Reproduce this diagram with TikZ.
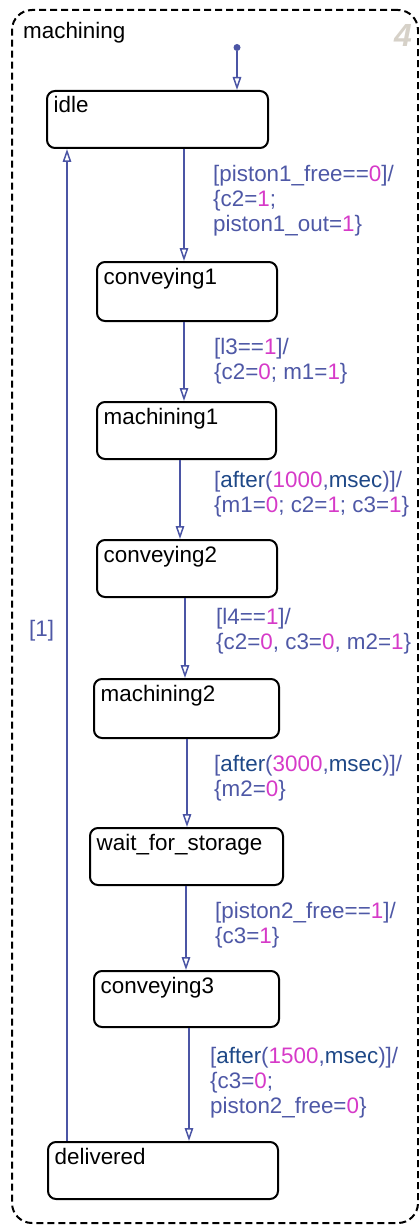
\documentclass[tikz,border=0pt]{standalone}
\usepackage{fontspec}
\setmainfont{Liberation Sans}
\usetikzlibrary{arrows.meta}
\definecolor{lb}{RGB}{78,88,166}
\definecolor{kwc}{RGB}{30,72,135}
\definecolor{nmc}{RGB}{214,58,200}
\definecolor{trc}{RGB}{75,85,165}
\definecolor{numgray}{RGB}{214,209,200}
\newcommand\nm[1]{\textcolor{nmc}{#1}}
\newcommand\kw[1]{\textcolor{kwc}{#1}}
\newcommand\lblfont{\fontsize{22.4}{25}\selectfont}
\tikzset{
  statebox/.style={draw=black, line width=2pt, rounded corners=8pt, rectangle, inner sep=0pt, fill=white},
  sname/.style={anchor=base west, inner sep=0pt, font=\lblfont, text=black},
  super/.style={draw=black, line width=2pt, dash pattern=on 7pt off 4pt, rounded corners=20pt, rectangle, inner sep=0pt},
  tr/.style={draw=trc, line width=1.8pt, -{Triangle[open, length=13pt, width=8.5pt, line width=1.5pt]}},
  tlbl/.style={anchor=north west, inner sep=0pt, align=left, text=lb, font=\lblfont},
}
\begin{document}
\begin{tikzpicture}[x=1pt, y=-1pt]
\useasboundingbox (0,0) rectangle (419,1225);
% superstate
\node[super, minimum width=406pt, minimum height=1213pt] (machining) at (215,616.5) {};
\node[sname] (machiningname) at (23,39) {machining};
\node[anchor=north east, inner sep=0pt, text=numgray, font=\fontsize{32}{32}\selectfont\bfseries\itshape] (chartnum) at (412,24) {4};
% states
\node[statebox, minimum width=221pt, minimum height=57pt] (idle) at (157.5,119.5) {};
\node[statebox, minimum width=180pt, minimum height=59pt] (conveying1) at (187,291.5) {};
\node[statebox, minimum width=179pt, minimum height=57pt] (machining1) at (186.5,430.5) {};
\node[statebox, minimum width=180pt, minimum height=57pt] (conveying2) at (187,568.5) {};
\node[statebox, minimum width=185pt, minimum height=59pt] (machining2) at (186.5,708.5) {};
\node[statebox, minimum width=193pt, minimum height=57pt] (wait) at (186.5,856.5) {};
\node[statebox, minimum width=185pt, minimum height=56pt] (conveying3) at (186.5,999) {};
\node[statebox, minimum width=230pt, minimum height=57pt] (delivered) at (163,1170.5) {};
% state names
\node[sname] (n-idle) at ([shift={(7.5,23)}]idle.north west) {idle};
\node[sname] (n-conv1) at ([shift={(7.5,23)}]conveying1.north west) {conveying1};
\node[sname] (n-mach1) at ([shift={(7.5,23)}]machining1.north west) {machining1};
\node[sname] (n-conv2) at ([shift={(7.5,23)}]conveying2.north west) {conveying2};
\node[sname] (n-mach2) at ([shift={(7.5,23)}]machining2.north west) {machining2};
\node[sname] (n-wait) at ([shift={(7.5,23)}]wait.north west) {wait\_for\_storage};
\node[sname] (n-conv3) at ([shift={(7.5,23)}]conveying3.north west) {conveying3};
\node[sname] (n-deliv) at ([shift={(7.5,23)}]delivered.north west) {delivered};
% transition x positions
\coordinate (x1) at (184,0);
\coordinate (x2) at (184,0);
\coordinate (x3) at (180,0);
\coordinate (x4) at (185,0);
\coordinate (x5) at (187,0);
\coordinate (x6) at (186,0);
\coordinate (x7) at (189,0);
\coordinate (xb) at (67,0);
% default transition
\node[circle, fill=trc, inner sep=0pt, minimum size=7pt] (init) at (237,47.5) {};
\draw[tr] (init) -- (idle.north -| init);
% transitions
\draw[tr] (idle.south -| x1) -- (conveying1.north -| x1);
\draw[tr] (conveying1.south -| x2) -- (machining1.north -| x2);
\draw[tr] (machining1.south -| x3) -- (conveying2.north -| x3);
\draw[tr] (conveying2.south -| x4) -- (machining2.north -| x4);
\draw[tr] (machining2.south -| x5) -- (wait.north -| x5);
\draw[tr] (wait.south -| x6) -- (conveying3.north -| x6);
\draw[tr] (conveying3.south -| x7) -- (delivered.north -| x7);
\draw[tr] (delivered.north -| xb) -- (idle.south -| xb);
% labels
\node[tlbl] (l1) at (213,165) {[piston1\_free==\nm{0}]/\\\{c2=\nm{1};\\piston1\_out=\nm{1}\}};
\node[tlbl] (l2) at (214,338) {[l3==\nm{1}]/\\\{c2=\nm{0}; m1=\nm{1}\}};
\node[tlbl] (l3) at (214,471.5) {[\kw{after}(\nm{1000},\kw{msec})]/\\\{m1=\nm{0}; c2=\nm{1}; c3=\nm{1}\}};
\node[tlbl] (l4) at (216,608) {[l4==\nm{1}]/\\\{c2=\nm{0}, c3=\nm{0}, m2=\nm{1}\}};
\node[tlbl] (l5) at (214,755) {[\kw{after}(\nm{3000},\kw{msec})]/\\\{m2=\nm{0}\}};
\node[tlbl] (l6) at (215,902) {[piston2\_free==\nm{1}]/\\\{c3=\nm{1}\}};
\node[tlbl] (l7) at (210,1047) {[\kw{after}(\nm{1500},\kw{msec})]/\\\{c3=\nm{0};\\piston2\_free=\nm{0}\}};
\node[tlbl] (lb) at (29,620) {[1]};
\end{tikzpicture}
\end{document}
